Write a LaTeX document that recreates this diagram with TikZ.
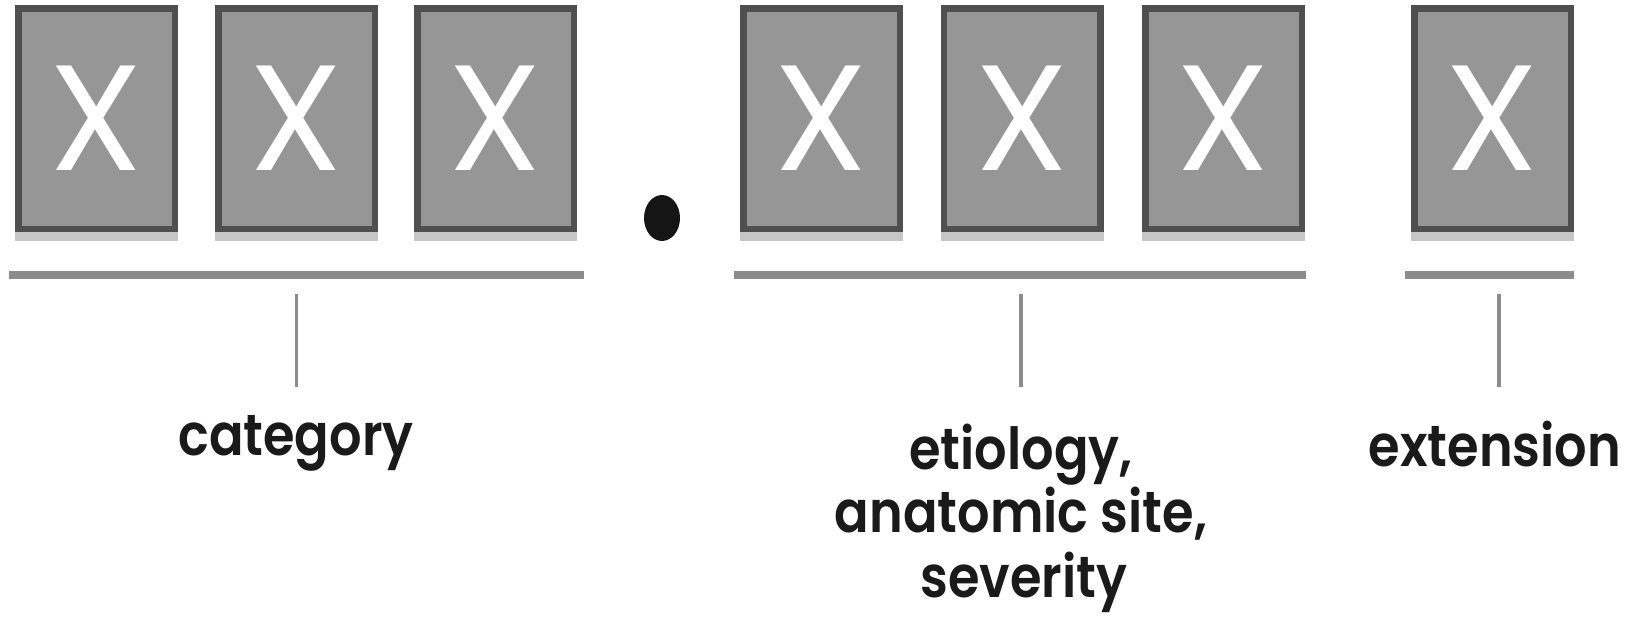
\documentclass[tikz,border=0pt]{standalone}
\usepackage{fontspec}
\usepackage{graphicx}
\setmainfont{Poppins}
\newfontfamily\labelfont{Poppins SemiBold}
\usetikzlibrary{shadows,shapes.geometric}
\definecolor{boxfill}{HTML}{969696}
\definecolor{boxedge}{HTML}{4F4F4F}
\definecolor{boxshade}{HTML}{C6C6C6}
\definecolor{barc}{HTML}{8C8C8C}
\definecolor{textc}{HTML}{1A1A1A}
\definecolor{dotc}{HTML}{151515}
\newcommand{\narrowlbl}[1]{\scalebox{0.88}[1]{#1}}
\begin{document}
\begin{tikzpicture}[x=1pt,y=-1pt,
  digit/.style={draw=boxedge, fill=boxfill, line width=6.5pt,
    minimum width=156.5pt, minimum height=220.5pt, inner sep=0pt,
    text=white, font=\fontsize{150}{150}\selectfont,
    general shadow={draw=boxshade, fill=boxshade, line width=6.5pt, shadow yshift=-9pt}},
  bar/.style={fill=barc, inner sep=0pt, minimum height=8pt},
  tick/.style={draw=barc, line width=3.5pt},
  lbl/.style={text=textc, font=\labelfont\fontsize{58}{62}\selectfont, inner sep=0pt, anchor=base}
]
\useasboundingbox (0,0) rectangle (1638,621);
\node[digit] (d1) at (96.5,118.5) {X};
\node[digit] (d2) at (296.5,118.5) {X};
\node[digit] (d3) at (495.5,118.5) {X};
\node[ellipse, fill=dotc, minimum width=36pt, minimum height=46pt, inner sep=0pt] (dot) at (662,218) {};
\node[digit] (d4) at (821.5,118.5) {X};
\node[digit] (d5) at (1022,118.5) {X};
\node[digit] (d6) at (1223.5,118.5) {X};
\node[digit] (d7) at (1492.5,118.5) {X};
\node[bar, minimum width=575pt] (b1) at (296.5,275) {};
\node[bar, minimum width=572pt] (b2) at (1020,275) {};
\node[bar, minimum width=169pt] (b3) at (1489.5,275) {};
\node[lbl] (cat) at (296,455) {\narrowlbl{category}};
\node[lbl] (eti1) at (1021,469) {\narrowlbl{etiology,}};
\node[lbl] (eti2) at (1021,532) {\narrowlbl{anatomic site,}};
\node[lbl] (eti3) at (1024,597) {\narrowlbl{severity}};
\node[lbl] (ext) at (1495,466) {\narrowlbl{extension}};
\draw[tick] ([yshift=-15pt]b1.south) -- ([yshift=-108pt]b1.south);
\draw[tick] ([xshift=1pt,yshift=-15pt]b2.south) -- ([xshift=1pt,yshift=-108pt]b2.south);
\draw[tick] ([xshift=9.5pt,yshift=-15pt]b3.south) -- ([xshift=9.5pt,yshift=-108pt]b3.south);
\end{tikzpicture}
\end{document}
